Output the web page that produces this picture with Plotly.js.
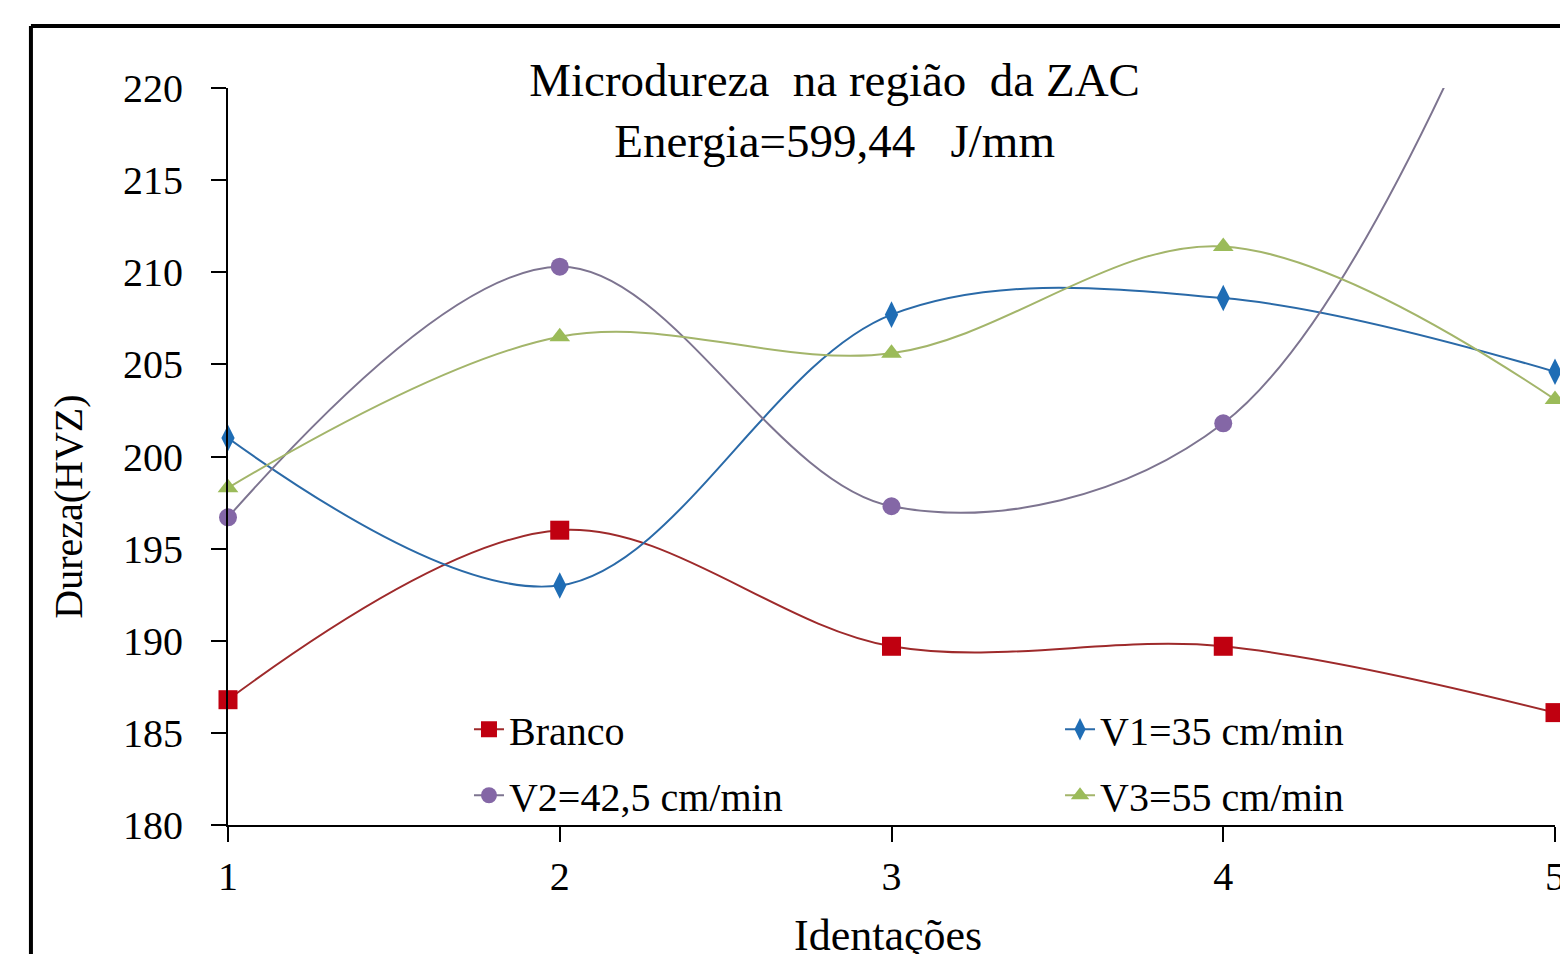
<!DOCTYPE html>
<html>
<head>
<meta charset="utf-8">
<script src="https://cdn.plot.ly/plotly-3.0.1.min.js"></script>
<style>
  html, body { margin: 0; padding: 0; background: #ffffff; }
  #chart { width: 1560px; height: 954px; }
</style>
</head>
<body>
<div id="chart"></div>
<script>
// Data
const identacoes = [1, 2, 3, 4, 5];
const branco = [186.8, 196.0, 189.7, 189.7, 186.1];
const v1 = [201.0, 193.0, 207.7, 208.6, 204.6];
const v2 = [196.7, 210.3, 197.3, 201.8, 234.0];
const v3 = [198.3, 206.5, 205.6, 211.4, 203.1];
const seriesNames = ["Branco", "V1=35 cm/min", "V2=42,5 cm/min", "V3=55 cm/min"];
const yTicks = [180, 185, 190, 195, 200, 205, 210, 215, 220];

const serif = '"Liberation Serif", "Times New Roman", serif';

function mk(y, name, lineColor, markerColor, symbol, size, legendId) {
  return {
    x: identacoes, y: y, name: name, type: 'scatter', mode: 'lines+markers',
    line: { color: lineColor, width: 2, shape: 'spline', smoothing: 1 },
    marker: { color: markerColor, symbol: symbol, size: size, line: { width: 0 } },
    cliponaxis: false, legend: legendId, legendgroup: name
  };
}

const traces = [
  mk(branco, seriesNames[0], '#9E2A2B', '#C00010', 'square', 19, 'legend'),
  mk(v1, seriesNames[1], '#2A6AA8', '#1F6DB5', 'diamond-tall', 19, 'legend2'),
  mk(v2, seriesNames[2], '#7D7490', '#8467A6', 'circle', 18, 'legend'),
  mk(v3, seriesNames[3], '#A3B56A', '#9BBB59', 'triangle-up', 18, 'legend2')
];

const legendCommon = {
  orientation: 'v', yanchor: 'top', xanchor: 'left', y: 0.174,
  font: { family: serif, size: 40, color: '#000000' }, bgcolor: 'rgba(0,0,0,0)',
  tracegroupgap: 11, traceorder: 'grouped'
};

const layout = {
  width: 1560, height: 954,
  paper_bgcolor: '#ffffff', plot_bgcolor: '#ffffff',
  margin: { l: 228, r: 5, t: 88, b: 129 },
  font: { family: serif, color: '#000000', size: 40 },
  title: {
    text: 'Microdureza&nbsp; na região&nbsp; da ZAC<br>Energia=599,44&nbsp;&nbsp; J/mm',
    font: { family: serif, size: 47, color: '#000000' },
    xref: 'container', x: 0.535, xanchor: 'center',
    yref: 'container', y: 0.899, yanchor: 'middle'
  },
  xaxis: {
    range: [1, 5], tickvals: identacoes, ticktext: identacoes.map(String),
    showgrid: false, zeroline: false, showline: true, linecolor: '#000000', linewidth: 2,
    ticks: 'outside', ticklen: 15, tickwidth: 2, tickcolor: '#000000',
    tickfont: { family: serif, size: 40 }, ticklabeloverflow: 'allow',
    automargin: false
  },
  yaxis: {
    range: [180, 220], tickvals: yTicks,
    showgrid: false, zeroline: false, showline: true, linecolor: '#000000', linewidth: 2,
    ticks: 'outside', ticklen: 15, tickwidth: 2, tickcolor: '#000000',
    tickfont: { family: serif, size: 40 }, ticklabelstandoff: 20,
    automargin: false
  },
  showlegend: true,
  legend: Object.assign({}, legendCommon, { x: 0.1816 }),
  legend2: Object.assign({}, legendCommon, { x: 0.627 }),
  annotations: [
    { text: 'Identações', xref: 'paper', yref: 'paper', x: 0.4974, y: -0.1493,
      xanchor: 'center', yanchor: 'middle', showarrow: false,
      font: { family: serif, size: 44, color: '#000000' } },
    { text: 'Dureza(HVZ)', xref: 'paper', yref: 'paper', x: -0.12, y: 0.4315,
      xanchor: 'center', yanchor: 'middle', showarrow: false, textangle: -90,
      font: { family: serif, size: 40, color: '#000000' } }
  ],
  shapes: [
    { type: 'line', xref: 'paper', yref: 'paper', x0: -0.1485, x1: 1.1, y0: 1.0841, y1: 1.0841,
      line: { color: '#000000', width: 4 } },
    { type: 'line', xref: 'paper', yref: 'paper', x0: -0.1485, x1: -0.1485, y0: 1.0841, y1: -0.3,
      line: { color: '#000000', width: 4 } }
  ]
};

Plotly.newPlot('chart', traces, layout, { displayModeBar: false, responsive: false });
</script>
</body>
</html>
